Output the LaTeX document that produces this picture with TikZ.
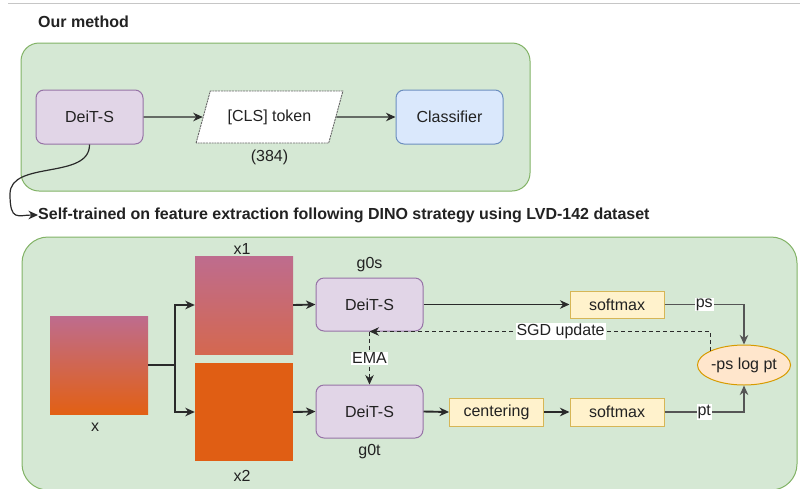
\documentclass[tikz,border=0pt]{standalone}
\usepackage{fontspec}
\setmainfont{Liberation Sans}
\usetikzlibrary{arrows.meta,shapes.geometric,calc}

\definecolor{grpfill}{HTML}{D5E8D4}
\definecolor{grpline}{HTML}{82B366}
\definecolor{vitfill}{HTML}{E1D5E7}
\definecolor{vitline}{HTML}{9673A6}
\definecolor{clsfill}{HTML}{DAE8FC}
\definecolor{clsline}{HTML}{6C8EBF}
\definecolor{opfill}{HTML}{FFF2CC}
\definecolor{opline}{HTML}{D6B656}
\definecolor{lossfill}{HTML}{FFE6CC}
\definecolor{lossline}{HTML}{D79B00}
\definecolor{imgtop}{RGB}{190,108,142}
\definecolor{imgmid}{RGB}{212,104,80}
\definecolor{imgbot}{RGB}{226,96,20}
\definecolor{imgsolid}{RGB}{224,94,20}
\definecolor{ink}{HTML}{222222}
\definecolor{wire}{HTML}{2A2A2A}

\tikzset{
  txt/.style={font=\fontsize{16}{19}\selectfont, text=ink},
  group/.style={draw=grpline, fill=grpfill, line width=1pt, rounded corners=18pt},
  vit/.style={txt, draw=vitline, fill=vitfill, line width=1pt, rounded corners=8pt,
    minimum width=107pt, minimum height=53pt, inner sep=0pt},
  clsbox/.style={txt, draw=clsline, fill=clsfill, line width=1pt, rounded corners=8pt,
    minimum width=107pt, minimum height=54pt, inner sep=0pt},
  opbox/.style={txt, draw=opline, fill=opfill, line width=1pt,
    minimum width=94pt, minimum height=27pt, inner sep=0pt},
  imgbox/.style={minimum width=98pt, minimum height=98pt, inner sep=0pt},
  lbl/.style={txt, inner sep=1pt},
  tag/.style={txt, fill=white, inner sep=1pt},
  title/.style={txt, font=\fontsize{16}{19}\selectfont\bfseries, inner sep=0pt},
  tip/.style={-{Stealth[length=9.5pt,width=8.5pt,inset=3pt]}},
  thin/.style={draw=wire, line width=1.2pt},
  thick/.style={draw=wire, line width=1.9pt},
  fb/.style={draw=wire, line width=1pt, dash pattern=on 4pt off 3pt},
}

\begin{document}
\begin{tikzpicture}[x=1pt,y=-1pt]
  \useasboundingbox (0,0) rectangle (800,488);
  \fill[white] (0,0) rectangle (800,488);

  % rule along the top
  \draw[gray!45, line width=1pt] (8,3) -- (800,3);

  % ---- inference pipeline ----
  \node[title, anchor=west] (ttl) at (38,22) {Our method};
  \draw[group] (21,43) rectangle (530,191);

  \node[vit, minimum height=54pt] (deit) at (89.5,117) {DeiT-S};
  \node[txt, trapezium, trapezium stretches=true, trapezium left angle=63.4,
        trapezium right angle=116.6, minimum width=147pt, minimum height=52pt,
        fill=white, draw=gray!80!black, line width=0.9pt,
        dash pattern=on 2pt off 0.8pt] (cls) at (269.5,117) {[CLS] token};
  \node[lbl] (dim) at (269.5,157) {(384)};
  \node[clsbox] (clf) at (449.5,117) {Classifier};

  \draw[thin, tip] (deit.east) -- (cls.west);
  \draw[thin, tip] (cls.east) -- (clf.west);

  % ---- self-supervised pre-training ----
  \node[title, anchor=west] (sub) at (38,215)
    {Self-trained on feature extraction following DINO strategy using LVD-142 dataset};
  \draw[thin, tip] (deit.south) .. controls (90,180) and (10,160) .. (10,194)
    .. controls (10,222) and (18,215) .. (sub.west);

  \draw[group, rounded corners=26pt] (22,237) rectangle (797,490);

  \node[imgbox, top color=imgtop, bottom color=imgbot] (xi) at (99,365) {};
  \node[lbl] (xl) at (95,427) {x};
  \node[imgbox, top color=imgtop, bottom color=imgmid] (xa) at (244,305) {};
  \node[lbl] (xal) at (242,249) {x1};
  \node[imgbox, fill=imgsolid] (xb) at (244,412) {};
  \node[lbl] (xbl) at (242,476) {x2};

  \node[vit] (stu) at (369.5,304.5) {DeiT-S};
  \node[lbl] (stul) at (369.5,265) {g0s};
  \node[vit] (tea) at (369.5,411.5) {DeiT-S};
  \node[lbl] (teal) at (369.5,452) {g0t};

  \node[opbox] (sms) at (617,304.5) {softmax};
  \node[opbox, minimum height=28pt] (cen) at (496.5,412) {centering};
  \node[opbox, minimum height=28pt] (smt) at (617,412) {softmax};

  \node[txt, ellipse, draw=lossline, fill=lossfill, line width=1pt,
        minimum width=80pt, minimum height=40pt, inner sep=0pt] (loss) at (744,365) {-ps log pt};

  \coordinate (split) at (175,365);
  \draw[thick] (xi.east) -- (split);
  \draw[thick, tip] (split) |- (xa.west);
  \draw[thick, tip] (split) |- (xb.west);
  \draw[thick, tip] (xa.east) -- (stu.west);
  \draw[thick, tip] (xb.east) -- (tea.west);

  \draw[thick, tip] (stu.east) -- (sms.west);
  \draw[thick, tip] (tea.east) -- (cen.west);
  \draw[thick, tip] (cen.east) -- (smt.west);

  \draw[draw=wire!80!white, line width=1.6pt, tip] (sms.east) -| (loss.north)
    node[tag, pos=0.25] {ps};
  \draw[draw=wire!80!white, line width=1.6pt, tip] (smt.east) -| (loss.south)
    node[tag, pos=0.25] {pt};

  \draw[fb, tip] (loss.north west) |- (stu.south)
    node[tag, pos=0.72] {SGD update};
  \draw[fb, tip] (stu.south) -- (tea.north)
    node[tag, midway] {EMA};
\end{tikzpicture}
\end{document}
